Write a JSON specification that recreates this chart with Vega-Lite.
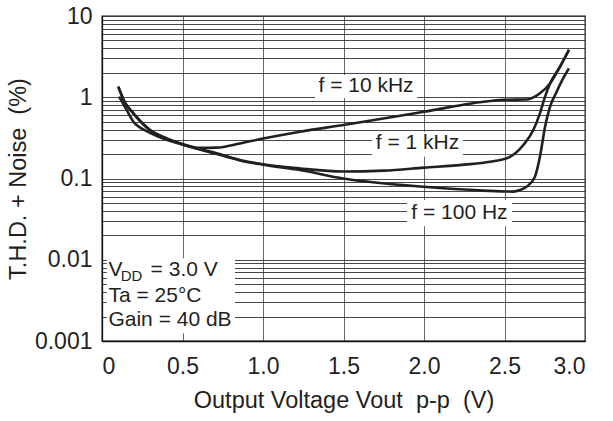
{
  "$schema": "https://vega.github.io/schema/vega-lite/v6.json",
  "width": 483,
  "height": 325,
  "autosize": "none",
  "padding": {"left": 102, "top": 16, "right": 28, "bottom": 80},
  "background": "white",
  "config": {
    "view": {"stroke": "#111", "strokeWidth": 1.3},
    "font": "Liberation Sans",
    "axis": {
      "labelFont": "Liberation Sans",
      "titleFont": "Liberation Sans",
      "labelColor": "#231f20",
      "titleColor": "#231f20",
      "titleFontWeight": "normal",
      "domainColor": "#111",
      "domainWidth": 1.3,
      "gridColor": "#333",
      "gridWidth": 0.9,
      "gridOpacity": 1,
      "ticks": false
    }
  },
  "datasets": {
    "curves": [
      {"series": "10 kHz", "vout": 0.101, "thd": 1.35},
      {"series": "10 kHz", "vout": 0.14, "thd": 0.88},
      {"series": "10 kHz", "vout": 0.195, "thd": 0.634},
      {"series": "10 kHz", "vout": 0.298, "thd": 0.395},
      {"series": "10 kHz", "vout": 0.402, "thd": 0.312},
      {"series": "10 kHz", "vout": 0.5, "thd": 0.266},
      {"series": "10 kHz", "vout": 0.609, "thd": 0.238},
      {"series": "10 kHz", "vout": 0.712, "thd": 0.24},
      {"series": "10 kHz", "vout": 0.857, "thd": 0.27},
      {"series": "10 kHz", "vout": 1.0, "thd": 0.31},
      {"series": "10 kHz", "vout": 1.23, "thd": 0.377},
      {"series": "10 kHz", "vout": 1.5, "thd": 0.455},
      {"series": "10 kHz", "vout": 2.0, "thd": 0.664},
      {"series": "10 kHz", "vout": 2.41, "thd": 0.9},
      {"series": "10 kHz", "vout": 2.5, "thd": 0.93},
      {"series": "10 kHz", "vout": 2.638, "thd": 0.94},
      {"series": "10 kHz", "vout": 2.72, "thd": 1.12},
      {"series": "10 kHz", "vout": 2.783, "thd": 1.48},
      {"series": "10 kHz", "vout": 2.845, "thd": 2.38},
      {"series": "10 kHz", "vout": 2.9, "thd": 3.82},
      {"series": "1 kHz", "vout": 0.101, "thd": 1.35},
      {"series": "1 kHz", "vout": 0.14, "thd": 0.88},
      {"series": "1 kHz", "vout": 0.195, "thd": 0.634},
      {"series": "1 kHz", "vout": 0.298, "thd": 0.395},
      {"series": "1 kHz", "vout": 0.402, "thd": 0.31},
      {"series": "1 kHz", "vout": 0.5, "thd": 0.262},
      {"series": "1 kHz", "vout": 0.712, "thd": 0.204},
      {"series": "1 kHz", "vout": 0.857, "thd": 0.169},
      {"series": "1 kHz", "vout": 1.0, "thd": 0.15},
      {"series": "1 kHz", "vout": 1.23, "thd": 0.133},
      {"series": "1 kHz", "vout": 1.5, "thd": 0.122},
      {"series": "1 kHz", "vout": 1.75, "thd": 0.125},
      {"series": "1 kHz", "vout": 2.0, "thd": 0.136},
      {"series": "1 kHz", "vout": 2.25, "thd": 0.148},
      {"series": "1 kHz", "vout": 2.41, "thd": 0.161},
      {"series": "1 kHz", "vout": 2.534, "thd": 0.185},
      {"series": "1 kHz", "vout": 2.617, "thd": 0.258},
      {"series": "1 kHz", "vout": 2.679, "thd": 0.395},
      {"series": "1 kHz", "vout": 2.72, "thd": 0.634},
      {"series": "1 kHz", "vout": 2.752, "thd": 1.02},
      {"series": "1 kHz", "vout": 2.783, "thd": 1.48},
      {"series": "1 kHz", "vout": 2.845, "thd": 2.38},
      {"series": "1 kHz", "vout": 2.9, "thd": 3.82},
      {"series": "100 Hz", "vout": 0.106, "thd": 1.02},
      {"series": "100 Hz", "vout": 0.153, "thd": 0.697},
      {"series": "100 Hz", "vout": 0.195, "thd": 0.5},
      {"series": "100 Hz", "vout": 0.215, "thd": 0.455},
      {"series": "100 Hz", "vout": 0.298, "thd": 0.366},
      {"series": "100 Hz", "vout": 0.402, "thd": 0.3},
      {"series": "100 Hz", "vout": 0.5, "thd": 0.262},
      {"series": "100 Hz", "vout": 0.712, "thd": 0.2},
      {"series": "100 Hz", "vout": 0.857, "thd": 0.167},
      {"series": "100 Hz", "vout": 1.0, "thd": 0.148},
      {"series": "100 Hz", "vout": 1.23, "thd": 0.127},
      {"series": "100 Hz", "vout": 1.5, "thd": 0.1},
      {"series": "100 Hz", "vout": 2.0, "thd": 0.079},
      {"series": "100 Hz", "vout": 2.37, "thd": 0.071},
      {"series": "100 Hz", "vout": 2.555, "thd": 0.069},
      {"series": "100 Hz", "vout": 2.596, "thd": 0.072},
      {"series": "100 Hz", "vout": 2.638, "thd": 0.0795},
      {"series": "100 Hz", "vout": 2.689, "thd": 0.105},
      {"series": "100 Hz", "vout": 2.72, "thd": 0.185},
      {"series": "100 Hz", "vout": 2.752, "thd": 0.434},
      {"series": "100 Hz", "vout": 2.783, "thd": 0.766},
      {"series": "100 Hz", "vout": 2.824, "thd": 1.17},
      {"series": "100 Hz", "vout": 2.87, "thd": 1.79},
      {"series": "100 Hz", "vout": 2.9, "thd": 2.27}
    ],
    "boxes": [
      {"x1": 0.03, "x2": 0.826, "y1": 0.00125, "y2": 0.0104},
      {"x1": 1.323, "x2": 1.957, "y1": 0.98, "y2": 1.88},
      {"x1": 1.677, "x2": 2.242, "y1": 0.185, "y2": 0.377},
      {"x1": 1.894, "x2": 2.547, "y1": 0.026, "y2": 0.0543}
    ],
    "curveLabels": [
      {"text": "f = 10 kHz", "vout": 1.64, "thd": 1.374},
      {"text": "f = 1 kHz", "vout": 1.96, "thd": 0.27},
      {"text": "f = 100 Hz", "vout": 2.22, "thd": 0.0376}
    ],
    "conditions": [
      {"text": "V", "vout": 0.04, "thd": 0.00748, "size": 21},
      {"text": "DD", "vout": 0.116, "thd": 0.0063, "size": 15},
      {"text": "= 3.0 V", "vout": 0.302, "thd": 0.00748, "size": 21},
      {"text": "Ta = 25°C", "vout": 0.04, "thd": 0.00361, "size": 21},
      {"text": "Gain = 40 dB", "vout": 0.04, "thd": 0.00181, "size": 21}
    ]
  },
  "layer": [
    {
      "data": {"name": "boxes"},
      "mark": {"type": "rect", "fill": "white", "stroke": null},
      "encoding": {
        "x": {"field": "x1", "type": "quantitative", "scale": {"domain": [0, 3], "nice": false, "zero": false},
          "axis": {
            "values": [0, 0.5, 1, 1.5, 2, 2.5, 3],
            "grid": true,
            "gridColor": "#555",
            "labelFontSize": 23,
            "labelPadding": 14,
            "labelExpr": "datum.value == 0 ? '0' : format(datum.value, '.1f')",
            "title": "Output Voltage Vout\u00a0 p-p\u00a0 (V)",
            "titleFontSize": 23.5,
            "titlePadding": 10
          }},
        "x2": {"field": "x2"},
        "y": {"field": "y1", "type": "quantitative", "scale": {"type": "log", "domain": [0.001, 10], "nice": false},
          "axis": {
            "values": [0.001, 0.002, 0.003, 0.004, 0.005, 0.006, 0.007, 0.008, 0.009, 0.01, 0.02, 0.03, 0.04, 0.05, 0.06, 0.07, 0.08, 0.09, 0.1, 0.2, 0.3, 0.4, 0.5, 0.6, 0.7, 0.8, 0.9, 1, 2, 3, 4, 5, 6, 7, 8, 9, 10],
            "grid": true,
            "labelFontSize": 23,
            "labelPadding": 10,
            "labelExpr": "abs(log(datum.value)/LN10 - round(log(datum.value)/LN10)) < 0.000001 ? format(datum.value, '~g') : ''",
            "title": "T.H.D. + Noise\u00a0 (%)",
            "titleFontSize": 23.5,
            "titlePadding": 4
          }},
        "y2": {"field": "y2"}
      }
    },
    {
      "data": {"name": "curves"},
      "mark": {"type": "line", "interpolate": "monotone", "color": "#231f20", "strokeWidth": 2.6},
      "encoding": {
        "x": {"field": "vout", "type": "quantitative"},
        "y": {"field": "thd", "type": "quantitative"},
        "detail": {"field": "series"}
      }
    },
    {
      "data": {"name": "curveLabels"},
      "mark": {"type": "text", "color": "#231f20", "baseline": "middle", "align": "center", "fontSize": 21, "font": "Liberation Sans"},
      "encoding": {
        "x": {"field": "vout", "type": "quantitative"},
        "y": {"field": "thd", "type": "quantitative"},
        "text": {"field": "text"}
      }
    },
    {
      "data": {"name": "conditions"},
      "mark": {"type": "text", "color": "#231f20", "baseline": "middle", "align": "left", "font": "Liberation Sans"},
      "encoding": {
        "x": {"field": "vout", "type": "quantitative"},
        "y": {"field": "thd", "type": "quantitative"},
        "text": {"field": "text"},
        "size": {"field": "size", "type": "quantitative", "scale": null}
      }
    }
  ]
}
